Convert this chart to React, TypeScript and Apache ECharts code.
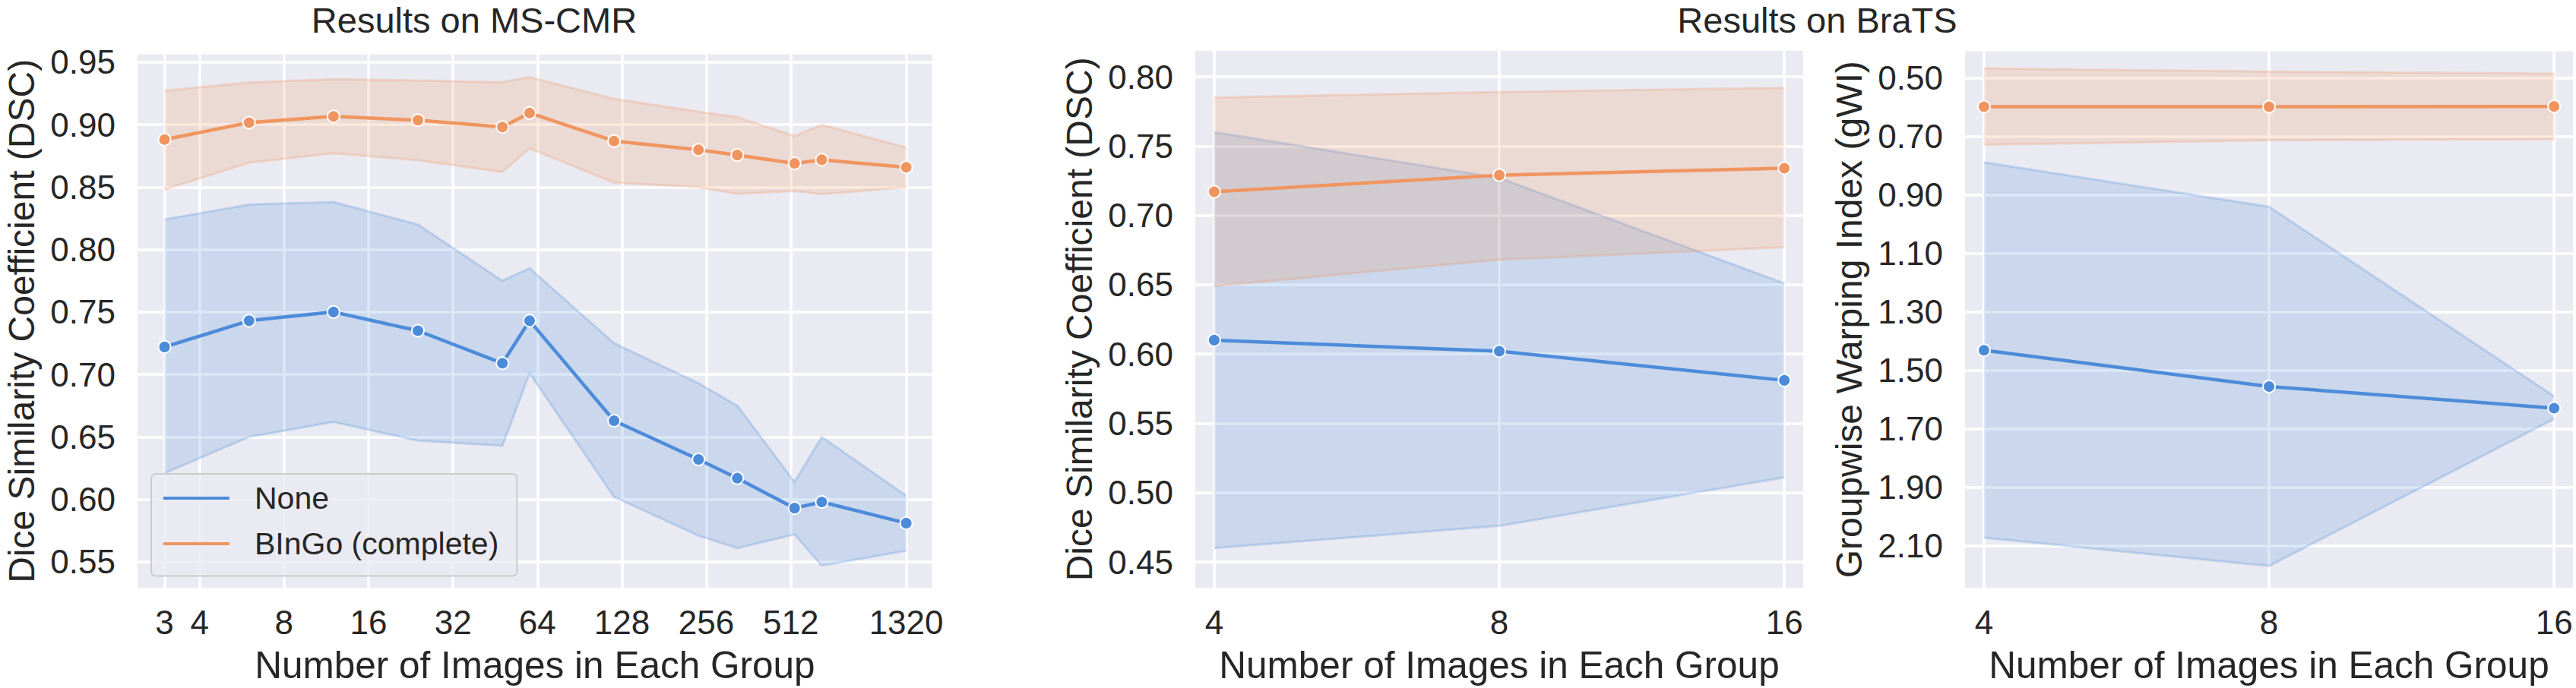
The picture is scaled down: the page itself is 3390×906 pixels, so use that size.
import React, { useEffect, useRef } from 'react';
import * as echarts from 'echarts';

// ---------- MS-CMR (left panel) ----------
const msX = [3, 6, 12, 24, 48, 60, 120, 240, 330, 528, 660, 1320];
const msNoneMean = [0.722, 0.743, 0.750, 0.735, 0.709, 0.743, 0.663, 0.632, 0.617, 0.593, 0.598, 0.581];
const msNoneLow = [0.621, 0.650, 0.662, 0.647, 0.643, 0.701, 0.602, 0.571, 0.561, 0.572, 0.547, 0.559];
const msNoneHigh = [0.824, 0.836, 0.838, 0.820, 0.775, 0.785, 0.725, 0.693, 0.675, 0.614, 0.650, 0.603];
const msBingoMean = [0.888, 0.9015, 0.9065, 0.9035, 0.898, 0.9093, 0.8868, 0.8798, 0.8756, 0.8689, 0.8718, 0.8658];
const msBingoLow = [0.848, 0.8695, 0.877, 0.8715, 0.862, 0.881, 0.8535, 0.8499, 0.8446, 0.8468, 0.8442, 0.8499];
const msBingoHigh = [0.927, 0.9338, 0.9363, 0.9353, 0.9339, 0.9379, 0.9206, 0.9103, 0.906, 0.8908, 0.8998, 0.8816];
const msXTicks = [3, 4, 8, 16, 32, 64, 128, 256, 512, 1320];
const msYTicks = [0.55, 0.6, 0.65, 0.7, 0.75, 0.8, 0.85, 0.9, 0.95];

// ---------- BraTS (right panels) ----------
const brX = [4, 8, 16];
const brXTicks = [4, 8, 16];
const brDscNoneMean = [0.610, 0.602, 0.581];
const brDscNoneLow = [0.460, 0.476, 0.511];
const brDscNoneHigh = [0.760, 0.727, 0.651];
const brDscBingoMean = [0.717, 0.729, 0.734];
const brDscBingoLow = [0.649, 0.668, 0.677];
const brDscBingoHigh = [0.785, 0.789, 0.792];
const brDscYTicks = [0.45, 0.5, 0.55, 0.6, 0.65, 0.7, 0.75, 0.8];

const brGwiNoneMean = [1.431, 1.555, 1.629];
const brGwiNoneLow = [0.788, 0.940, 1.588];
const brGwiNoneHigh = [2.072, 2.169, 1.666];
const brGwiBingoMean = [0.598, 0.598, 0.597];
const brGwiBingoLow = [0.467, 0.478, 0.485];
const brGwiBingoHigh = [0.728, 0.713, 0.709];
const brGwiYTicks = [0.5, 0.7, 0.9, 1.1, 1.3, 1.5, 1.7, 1.9, 2.1];

const seriesNames = ['None', 'BInGo (complete)'];
const titles = ['Results on MS-CMR', 'Results on BraTS'];
const xName = 'Number of Images in Each Group';
const yNameDsc = 'Dice Similarity Coefficient (DSC)';
const yNameGwi = 'Groupwise Warping Index (gWI)';

const FONT = '"Liberation Sans", Arial, Helvetica, sans-serif';
const TXT = '#262626';
const BLUE = '#4C8BD9';
const ORANGE = '#F0955F';
const BG = '#EAEAF2';

function rgba(hex: string, a: number) {
  const r = parseInt(hex.slice(1, 3), 16);
  const g = parseInt(hex.slice(3, 5), 16);
  const b = parseInt(hex.slice(5, 7), 16);
  return `rgba(${r},${g},${b},${a})`;
}

function band(id: string, gi: number, xs: number[], lo: number[], hi: number[], color: string) {
  return {
    type: 'custom', name: id, xAxisIndex: gi, yAxisIndex: gi,
    data: xs.map((x, i) => [x, lo[i], hi[i]]),
    encode: { x: 0, y: [1, 2] },
    silent: true, z: 1,
    renderItem: (params: any, api: any) => {
      if (params.dataIndex !== 0) return null;
      const upper = xs.map((x, i) => api.coord([x, hi[i]]));
      const lower = xs.map((x, i) => api.coord([x, lo[i]]));
      const poly = upper.concat(lower.slice().reverse());
      const edge = { stroke: rgba(color, 0.25), lineWidth: 3, fill: 'none' };
      return {
        type: 'group',
        children: [
          { type: 'polygon', shape: { points: poly }, style: { fill: rgba(color, 0.2), stroke: 'none' } },
          { type: 'polyline', shape: { points: upper }, style: edge },
          { type: 'polyline', shape: { points: lower }, style: edge },
        ],
      };
    },
  };
}

function line(name: string, gi: number, xs: number[], ys: number[], color: string) {
  return {
    type: 'line', name, xAxisIndex: gi, yAxisIndex: gi,
    data: xs.map((x, i) => [x, ys[i]]),
    symbol: 'circle', symbolSize: 16, showSymbol: true,
    lineStyle: { color, width: 4.5 },
    itemStyle: { color, borderColor: '#ffffff', borderWidth: 2 },
    silent: true, z: 3,
  };
}

const tickText = { fontSize: 44, lineHeight: 44, color: TXT, fontFamily: FONT };
const xNameText = { fontSize: 49.5, lineHeight: 49.5, color: TXT, fontFamily: FONT };
const yNameText = { fontSize: 48, lineHeight: 44, color: TXT, fontFamily: FONT };
const split = { show: true, lineStyle: { color: '#ffffff', width: 3.5 } };

function xAxis(gi: number, min: number, max: number, ticks: number[]) {
  return {
    type: 'log', logBase: 2, gridIndex: gi, min, max,
    axisLine: { show: false },
    axisTick: { show: false, customValues: ticks },
    axisLabel: { ...tickText, customValues: ticks, margin: 23, formatter: (v: number) => String(Math.round(v)) },
    splitLine: split,
    name: xName, nameLocation: 'middle', nameGap: 77, nameTextStyle: xNameText,
  };
}

function yAxis(gi: number, min: number, max: number, ticks: number[], name: string, inverse = false) {
  return {
    type: 'value', gridIndex: gi, min, max, inverse,
    axisLine: { show: false },
    axisTick: { show: false, customValues: ticks },
    axisLabel: { ...tickText, customValues: ticks, margin: 29, formatter: (v: number) => v.toFixed(2) },
    splitLine: split,
    name, nameLocation: 'middle', nameGap: 131, nameTextStyle: yNameText,
  };
}

export default function App() {
  const ref = useRef<HTMLDivElement>(null);
  useEffect(() => {
    document.body.style.margin = '0';
    if (!ref.current) return;
    const chart = echarts.init(ref.current, undefined, { renderer: 'svg' });
    const gridBase = { show: true, backgroundColor: BG, borderWidth: 0, containLabel: false, outerBoundsMode: 'none' };
    chart.setOption({
      animation: false,
      backgroundColor: '#ffffff',
      textStyle: { fontFamily: FONT },
      grid: [
        { ...gridBase, left: 181, top: 71.7, width: 1045.7, height: 702.3 },
        { ...gridBase, left: 1573, top: 66.7, width: 800, height: 707.3 },
        { ...gridBase, left: 2586, top: 67.6, width: 800, height: 706.4 },
      ],
      xAxis: [
        xAxis(0, 2.403, 1633, msXTicks),
        xAxis(1, 3.82, 16.75, brXTicks),
        xAxis(2, 3.82, 16.75, brXTicks),
      ],
      yAxis: [
        yAxis(0, 0.5293, 0.9561, msYTicks, yNameDsc),
        yAxis(1, 0.4314, 0.8188, brDscYTicks, yNameDsc),
        yAxis(2, 0.4086, 2.2434, brGwiYTicks, yNameGwi, true),
      ],
      graphic: [
        { type: 'text', x: 624, y: 26.5, silent: true,
          style: { text: titles[0], fontSize: 47, lineHeight: 40, fontFamily: FONT, fill: TXT, align: 'center', verticalAlign: 'middle' } },
        { type: 'text', x: 2391.5, y: 26.5, silent: true,
          style: { text: titles[1], fontSize: 47, lineHeight: 40, fontFamily: FONT, fill: TXT, align: 'center', verticalAlign: 'middle' } },
      ],
      legend: {
        data: seriesNames,
        orient: 'vertical', left: 199, top: 624,
        padding: [11.5, 24, 22, 16],
        itemWidth: 87, itemHeight: 4, itemGap: 19,
        icon: 'rect',
        itemStyle: { borderWidth: 0 },
        textStyle: { fontSize: 41, lineHeight: 41, color: TXT, fontFamily: FONT, padding: [0, 0, 0, 28] },
        backgroundColor: 'rgba(234,234,242,0.8)',
        borderColor: '#cccccc', borderWidth: 2, borderRadius: 6,
        selectedMode: false,
      },
      series: [
        band('ms-none', 0, msX, msNoneLow, msNoneHigh, BLUE),
        band('ms-bingo', 0, msX, msBingoLow, msBingoHigh, ORANGE),
        line(seriesNames[0], 0, msX, msNoneMean, BLUE),
        line(seriesNames[1], 0, msX, msBingoMean, ORANGE),

        band('dsc-none', 1, brX, brDscNoneLow, brDscNoneHigh, BLUE),
        band('dsc-bingo', 1, brX, brDscBingoLow, brDscBingoHigh, ORANGE),
        line(seriesNames[0], 1, brX, brDscNoneMean, BLUE),
        line(seriesNames[1], 1, brX, brDscBingoMean, ORANGE),

        band('gwi-none', 2, brX, brGwiNoneLow, brGwiNoneHigh, BLUE),
        band('gwi-bingo', 2, brX, brGwiBingoLow, brGwiBingoHigh, ORANGE),
        line(seriesNames[0], 2, brX, brGwiNoneMean, BLUE),
        line(seriesNames[1], 2, brX, brGwiBingoMean, ORANGE),
      ],
    });
    return () => chart.dispose();
  }, []);
  return <div ref={ref} style={{ width: 3390, height: 906 }} />;
}
